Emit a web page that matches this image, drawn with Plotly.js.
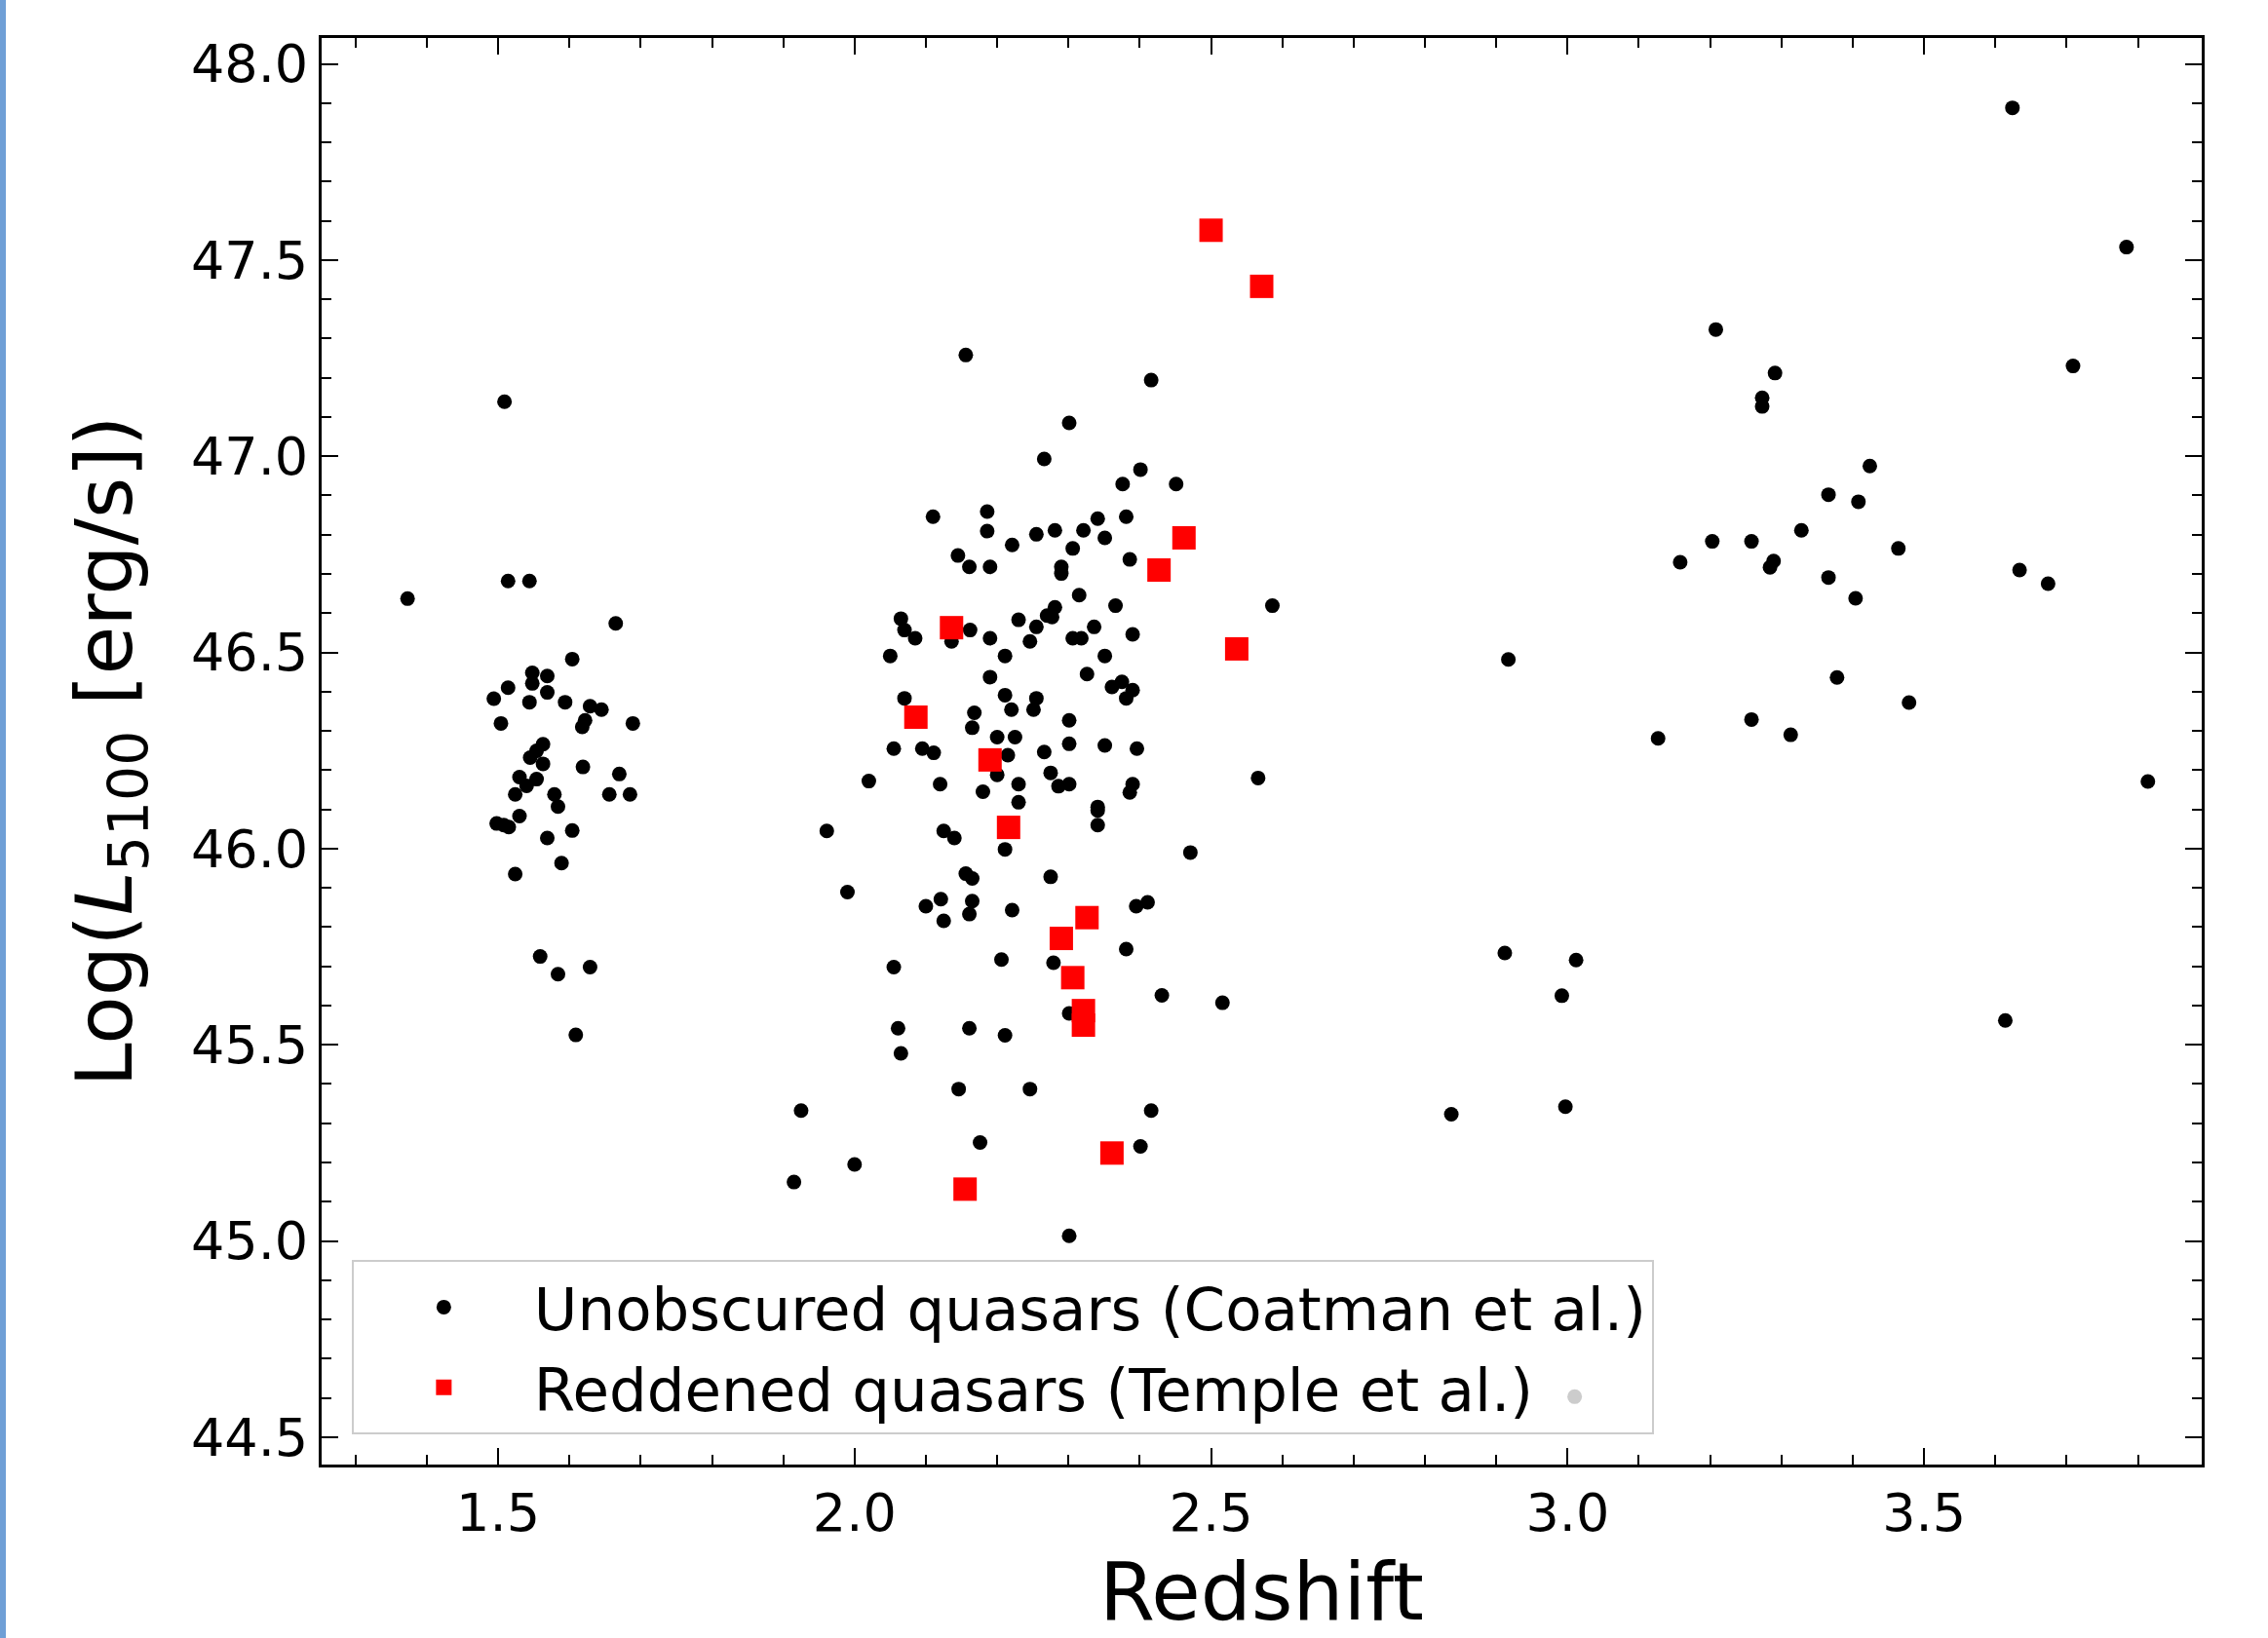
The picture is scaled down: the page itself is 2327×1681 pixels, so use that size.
<!DOCTYPE html>
<html>
<head>
<meta charset="utf-8">
<script src="https://cdn.plot.ly/plotly-3.0.1.min.js"></script>
<style>
html, body { margin: 0; padding: 0; background: #ffffff; }
#edge { position: absolute; left: 0; top: 0; width: 6px; height: 1681px; background: #6f9fd6; z-index: 10; }
#chart { width: 2327px; height: 1681px; }
</style>
</head>
<body>
<div id="edge"></div>
<div id="chart"></div>
<script>
// Unobscured quasars (Coatman et al.) - redshift and log L5100, by group
const lowZ = [1.509,1.514,1.544,1.373,1.665,1.604,1.548,1.569,1.548,1.569,1.514,1.494,1.544,1.594,1.629,1.645,1.504,1.622,1.618,1.689,1.563,1.554,1.545,1.563,1.619,1.530,1.554,1.670,1.540,1.524,1.656,1.685,1.579,1.584,1.530,1.498,1.515,1.508,1.604,1.569,1.589,1.524,1.559,1.584,1.629,1.609];
const lowL = [47.139,46.682,46.682,46.637,46.574,46.483,46.448,46.440,46.421,46.398,46.410,46.382,46.373,46.373,46.363,46.354,46.319,46.327,46.310,46.319,46.266,46.249,46.232,46.216,46.208,46.182,46.177,46.190,46.160,46.138,46.138,46.138,46.138,46.107,46.083,46.064,46.055,46.060,46.046,46.027,45.963,45.935,45.725,45.680,45.698,45.525];

const midAZ = [2.156,2.266,2.110,2.186,2.186,2.221,2.255,2.145,2.161,2.190,2.065,2.070,2.085,2.162,2.136,2.190,2.230,2.255,2.246,2.270,2.050,2.211,2.190,2.070,2.211,2.220,2.255,2.251,2.168,2.165,2.055,2.095,2.111,2.200,2.225,2.200,2.215,2.266,2.275,2.020,2.120,2.180,2.230,2.230];
const midAL = [47.258,46.993,46.846,46.859,46.809,46.774,46.801,46.747,46.718,46.718,46.586,46.557,46.536,46.557,46.528,46.536,46.583,46.565,46.528,46.594,46.491,46.491,46.437,46.383,46.391,46.354,46.383,46.354,46.346,46.308,46.255,46.255,46.244,46.284,46.284,46.188,46.238,46.246,46.193,46.172,46.164,46.145,46.164,46.118];

const midBZ = [2.416,2.301,2.401,2.376,2.451,2.381,2.341,2.281,2.321,2.351,2.306,2.290,2.290,2.386,2.315,2.366,2.586,2.281,2.277,2.336,2.306,2.318,2.390,2.351,2.326,2.361,2.375,2.390,2.381,2.301,2.301,2.351,2.396,2.566,2.286,2.301,2.390,2.386,2.341];
const midBL = [47.194,47.085,46.966,46.929,46.929,46.846,46.841,46.811,46.811,46.792,46.765,46.718,46.701,46.737,46.646,46.619,46.619,46.615,46.590,46.565,46.536,46.536,46.546,46.491,46.445,46.412,46.425,46.404,46.383,46.327,46.267,46.263,46.255,46.180,46.159,46.164,46.164,46.143,46.106];

const midCZ = [2.211,1.961,2.125,2.140,1.990,2.156,2.165,2.275,2.100,2.121,2.125,2.165,2.161,2.221,2.206,2.055,2.061,2.065,2.161,2.211,2.146,2.246,1.925,2.176,2.000,1.915,2.341,2.341,2.471,2.395,2.411,2.381,2.279,2.301,2.431,2.516,2.416,2.401,2.301];
const midCL = [45.998,46.045,46.045,46.027,45.889,45.936,45.924,45.928,45.853,45.871,45.816,45.866,45.833,45.843,45.717,45.698,45.542,45.478,45.542,45.524,45.387,45.387,45.332,45.251,45.195,45.150,46.097,46.060,45.990,45.853,45.863,45.744,45.709,45.580,45.626,45.607,45.332,45.241,45.013];

const highZ = [3.208,3.291,3.273,3.273,3.366,3.328,3.203,3.258,3.158,3.284,3.289,3.366,2.917,3.258,3.127,3.313,3.624,3.784,3.709,3.424,3.408,3.464,3.404,3.634,3.674,3.378,3.479,3.814,3.614,2.912,3.012,2.992,2.837,2.997,3.010];
const highL = [47.323,47.212,47.149,47.127,46.902,46.811,46.783,46.783,46.730,46.717,46.733,46.691,46.482,46.329,46.281,46.290,47.888,47.533,47.230,46.975,46.884,46.765,46.638,46.710,46.675,46.436,46.372,46.171,45.562,45.734,45.716,45.625,45.323,45.342,44.603];

// Reddened quasars (Temple et al.)
const reddenedZ = [2.500,2.571,2.462,2.427,2.136,2.536,2.086,2.190,2.216,2.326,2.290,2.306,2.321,2.321,2.361,2.155];
const reddenedL = [47.576,47.433,46.792,46.710,46.563,46.509,46.335,46.226,46.054,45.824,45.771,45.671,45.587,45.550,45.224,45.132];

const seriesNames = ['Unobscured quasars (Coatman et al.)', 'Reddened quasars (Temple et al.)'];
const xTitle = 'Redshift';
const yTitle = 'Log(<i>L</i><sub>5100</sub> [erg/s])';

const unobscuredZ = [].concat(lowZ, midAZ, midBZ, midCZ, highZ);
const unobscuredL = [].concat(lowL, midAL, midBL, midCL, highL);

const traces = [
  {
    type: 'scatter', mode: 'markers', name: seriesNames[0],
    x: unobscuredZ, y: unobscuredL,
    marker: { symbol: 'circle', size: 15, color: '#000000', line: { width: 0 } }
  },
  {
    type: 'scatter', mode: 'markers', name: seriesNames[1],
    x: reddenedZ, y: reddenedL,
    marker: { symbol: 'square', size: 24, color: '#ff0000', line: { width: 0 } }
  }
];

const axisCommon = {
  ticks: 'inside', ticklen: 17, tickwidth: 2, tickcolor: '#000000',
  mirror: 'ticks', showline: true, linecolor: '#000000', linewidth: 3,
  showgrid: false, zeroline: false, automargin: false,
  tickfont: { family: 'DejaVu Sans', size: 54, color: '#000000' },
  tickformat: '.1f'
};

const layout = {
  width: 2327, height: 1681,
  margin: { l: 330, r: 68, t: 39, b: 178, pad: 0 },
  paper_bgcolor: '#ffffff', plot_bgcolor: '#ffffff',
  font: { family: 'DejaVu Sans', color: '#000000' },
  showlegend: true,
  xaxis: Object.assign({}, axisCommon, {
    range: [1.2525, 3.8895], tick0: 1.5, dtick: 0.5,
    minor: { ticks: 'inside', ticklen: 10, tickwidth: 2, tickcolor: '#000000', tick0: 1.5, dtick: 0.1, showgrid: false },
    title: { text: xTitle, font: { family: 'DejaVu Sans', size: 82, color: '#000000' }, standoff: 22 }
  }),
  yaxis: Object.assign({}, axisCommon, {
    range: [44.43, 48.066], tick0: 44.5, dtick: 0.5,
    minor: { ticks: 'inside', ticklen: 10, tickwidth: 2, tickcolor: '#000000', tick0: 44.5, dtick: 0.1, showgrid: false },
    title: { text: yTitle, font: { family: 'DejaVu Sans', size: 81, color: '#000000' }, standoff: 34 }
  }),
  legend: {
    x: 0.016, y: 0.021, xanchor: 'left', yanchor: 'bottom',
    bgcolor: 'rgba(255,255,255,0.8)', bordercolor: '#cccccc', borderwidth: 2,
    font: { family: 'DejaVu Sans', size: 61, color: '#000000' },
    itemwidth: 175
  }
};

Plotly.newPlot('chart', traces, layout, { displayModeBar: false, staticPlot: true });
</script>
</body>
</html>
